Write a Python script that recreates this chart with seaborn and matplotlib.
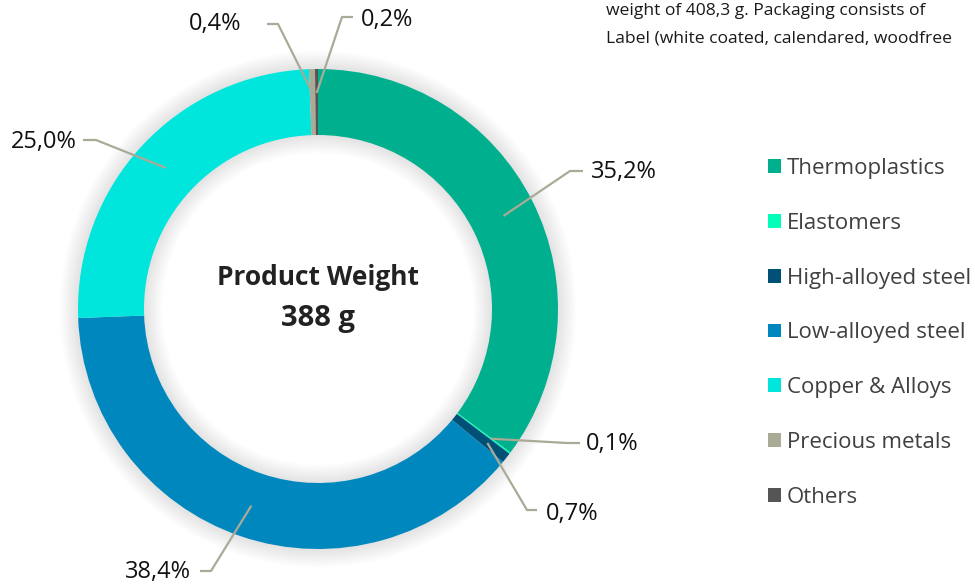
import matplotlib
matplotlib.use("Agg")
import matplotlib.pyplot as plt
from matplotlib.patches import Wedge
import numpy as np
import seaborn as sns

# ---- data ----
categories = ["Thermoplastics", "Elastomers", "High-alloyed steel", "Low-alloyed steel",
              "Copper & Alloys", "Precious metals", "Others"]
shares = [35.2, 0.1, 0.7, 38.4, 25.0, 0.4, 0.2]
colors = ["#00AF8E", "#00FFB9", "#005078", "#0087BE", "#00E6DC", "#AAAA96", "#555555"]
center_title = "Product Weight"
center_value = "388 g"
header_lines = ["weight of 408,3 g. Packaging consists of",
                "Label (white coated, calendared, woodfree"]

sns.set_theme(style="white")
plt.rcParams["font.family"] = ["Open Sans", "DejaVu Sans"]

W, H = 975, 586
fig = plt.figure(figsize=(W / 100, H / 100), dpi=100)
ax = fig.add_axes([0, 0, 1, 1])

CX, CY, R = 318, 309, 240  # pixel layout of the donut
def px(x, y):
    return ((x - CX) / R, (CY - y) / R)

ring = 0.275

# soft shadow around the ring
steps = 14
for k in range(steps):
    d = 0.0055 * (k + 1)
    ax.add_patch(Wedge((0, 0), 1 + d, 0, 360, width=ring + 2 * d,
                       facecolor="black", alpha=0.008, lw=0, zorder=0))

wedges, _ = ax.pie(shares, colors=colors, startangle=90, counterclock=False,
                   radius=1, wedgeprops=dict(width=ring, linewidth=0, zorder=2))

# labels: (text pos, elbow, line end, ha)
label_layout = [
    ((591, 172), (570, 171), (583, 171), "left"),
    ((586, 444), (567, 443), (580, 443), "left"),
    ((546, 514), (527, 510), (537, 510), "left"),
    ((191, 572), (211, 571), (200, 571), "right"),
    ((77, 142), (96, 140), (83, 140), "right"),
    ((241, 24), (278, 24), (267, 24), "right"),
    ((361, 20), (342, 17), (353, 17), "left"),
]
cum = np.cumsum([0] + shares)
total = cum[-1]
lead_c = "#AAAA96"
for i, v in enumerate(shares):
    mid = (cum[i] + cum[i + 1]) / 2 / total * 2 * np.pi
    r_pt = 0.865 if v > 1 else 0.9
    pt = (r_pt * np.sin(mid), r_pt * np.cos(mid))
    tpos, elbow, lend, ha = label_layout[i]
    e = px(*elbow)
    l = px(*lend)
    ax.plot([pt[0], e[0], l[0]], [pt[1], e[1], l[1]], color=lead_c, lw=1.6,
            zorder=3, solid_capstyle="butt")
    t = px(*tpos)
    ax.text(t[0], t[1], f"{v:.1f}".replace(".", ",") + "%", ha=ha, va="center",
            fontsize=17, color="#111111", zorder=4)

# centre text
c1 = px(318, 277)
c2 = px(318, 318)
ax.text(c1[0], c1[1], center_title, ha="center", va="center", fontsize=19,
        fontweight="bold", color="#222222")
ax.text(c2[0], c2[1], center_value, ha="center", va="center", fontsize=21,
        fontweight="bold", color="#222222")

# header text
h1 = px(606, 11)
h2 = px(606, 38)
ax.text(h1[0], h1[1], header_lines[0], ha="left", va="center", fontsize=12.6, color="#1a1a1a")
ax.text(h2[0], h2[1], header_lines[1], ha="left", va="center", fontsize=12.6, color="#1a1a1a")

ax.set_xlim(-CX / R, (W - CX) / R)
ax.set_ylim(-(H - CY) / R, CY / R)
ax.set_aspect("equal")
ax.axis("off")

leg = ax.legend(wedges, categories, loc="upper left", bbox_to_anchor=(768 / W, 1 - 158 / H),
                frameon=False, fontsize=16, labelspacing=1.52, handlelength=0.585,
                handleheight=0.585, handletextpad=0.27, borderaxespad=0, borderpad=0)
for txt in leg.get_texts():
    txt.set_color("#404040")

fig.savefig("out.png", dpi=100)
